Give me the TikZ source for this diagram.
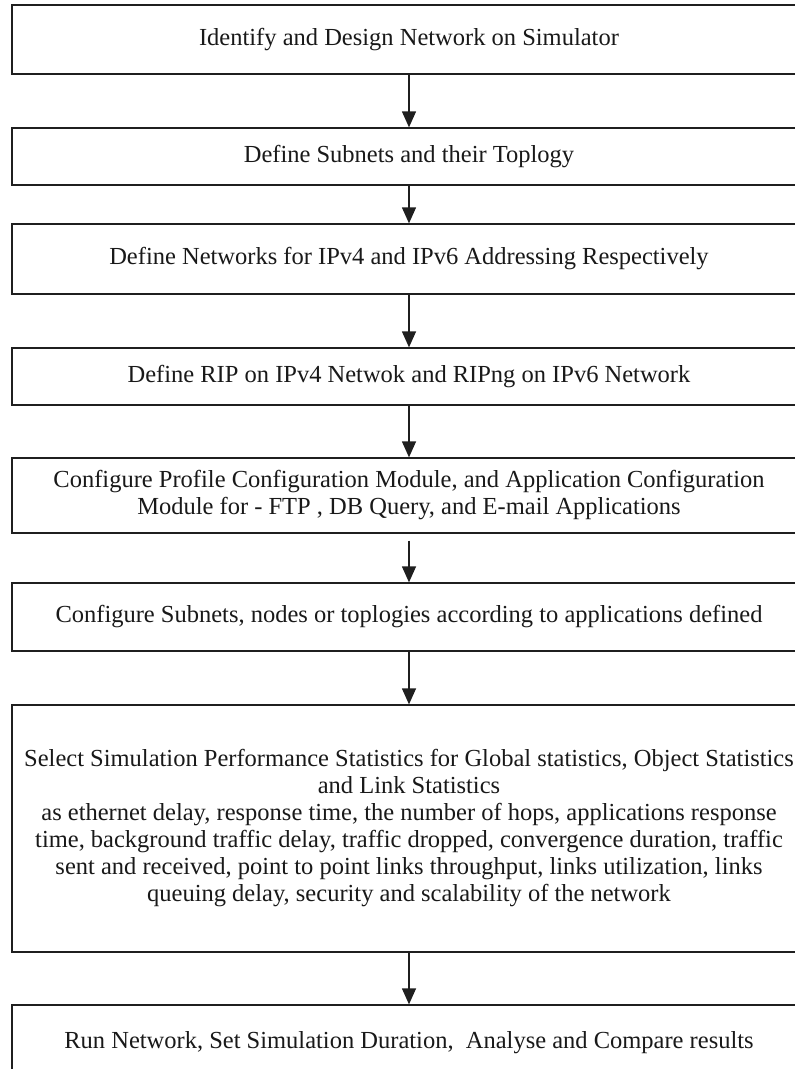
\documentclass[tikz,border=0pt]{standalone}
\usepackage{fontspec}
\setmainfont{Liberation Serif}
\usetikzlibrary{arrows.meta}
\tikzset{
  flowbox/.style={draw=black!88, line width=1.3pt, rectangle, minimum width=794pt, inner sep=0pt, align=center, font=\fontsize{24.5}{27}\selectfont, text=black!90},
  flowarrow/.style={draw=black!88, line width=1.3pt, -{Triangle[length=16pt,width=14pt]}}
}
\begin{document}
\begin{tikzpicture}[x=1pt,y=-1pt]
\useasboundingbox (0,0) rectangle (795,1069);
\clip (0,0) rectangle (795,1069);
\fill[white] (0,0) rectangle (795,1069);
\node[flowbox, minimum height=69pt] (b1) at (409,39.5) {Identify and Design Network on Simulator};
\node[flowbox, minimum height=57pt] (b2) at (409,156.5) {Define Subnets and their Toplogy};
\node[flowbox, minimum height=70pt] (b3) at (409,259) {Define Networks for IPv4 and IPv6 Addressing Respectively};
\node[flowbox, minimum height=57pt] (b4) at (409,376.5) {Define RIP on IPv4 Netwok and RIPng on IPv6 Network};
\node[flowbox, minimum height=75pt] (b5) at (409,495.5) {Configure Profile Configuration Module, and Application Configuration\\Module for - FTP , DB Query, and E-mail Applications};
\node[flowbox, minimum height=68pt] (b6) at (409,617) {Configure Subnets, nodes or toplogies according to applications defined};
\node[flowbox, minimum height=247pt] (b7) at (409,828.5) {Select Simulation Performance Statistics for Global statistics, Object Statistics\\and Link Statistics\\as ethernet delay, response time, the number of hops, applications response\\time, background traffic delay, traffic dropped, convergence duration, traffic\\sent and received, point to point links throughput, links utilization, links\\queuing delay, security and scalability of the network};
\node[flowbox, minimum height=75pt] (b8) at (409,1042.5) {Run Network, Set Simulation Duration,\ \ Analyse and Compare results};
\draw[flowarrow] (b1.south) -- (b2.north);
\draw[flowarrow] (b2.south) -- (b3.north);
\draw[flowarrow] (b3.south) -- (b4.north);
\draw[flowarrow] (b4.south) -- (b5.north);
\draw[flowarrow, shorten <=7pt] (b5.south) -- (b6.north);
\draw[flowarrow] (b6.south) -- (b7.north);
\draw[flowarrow] (b7.south) -- (b8.north);
\end{tikzpicture}
\end{document}
